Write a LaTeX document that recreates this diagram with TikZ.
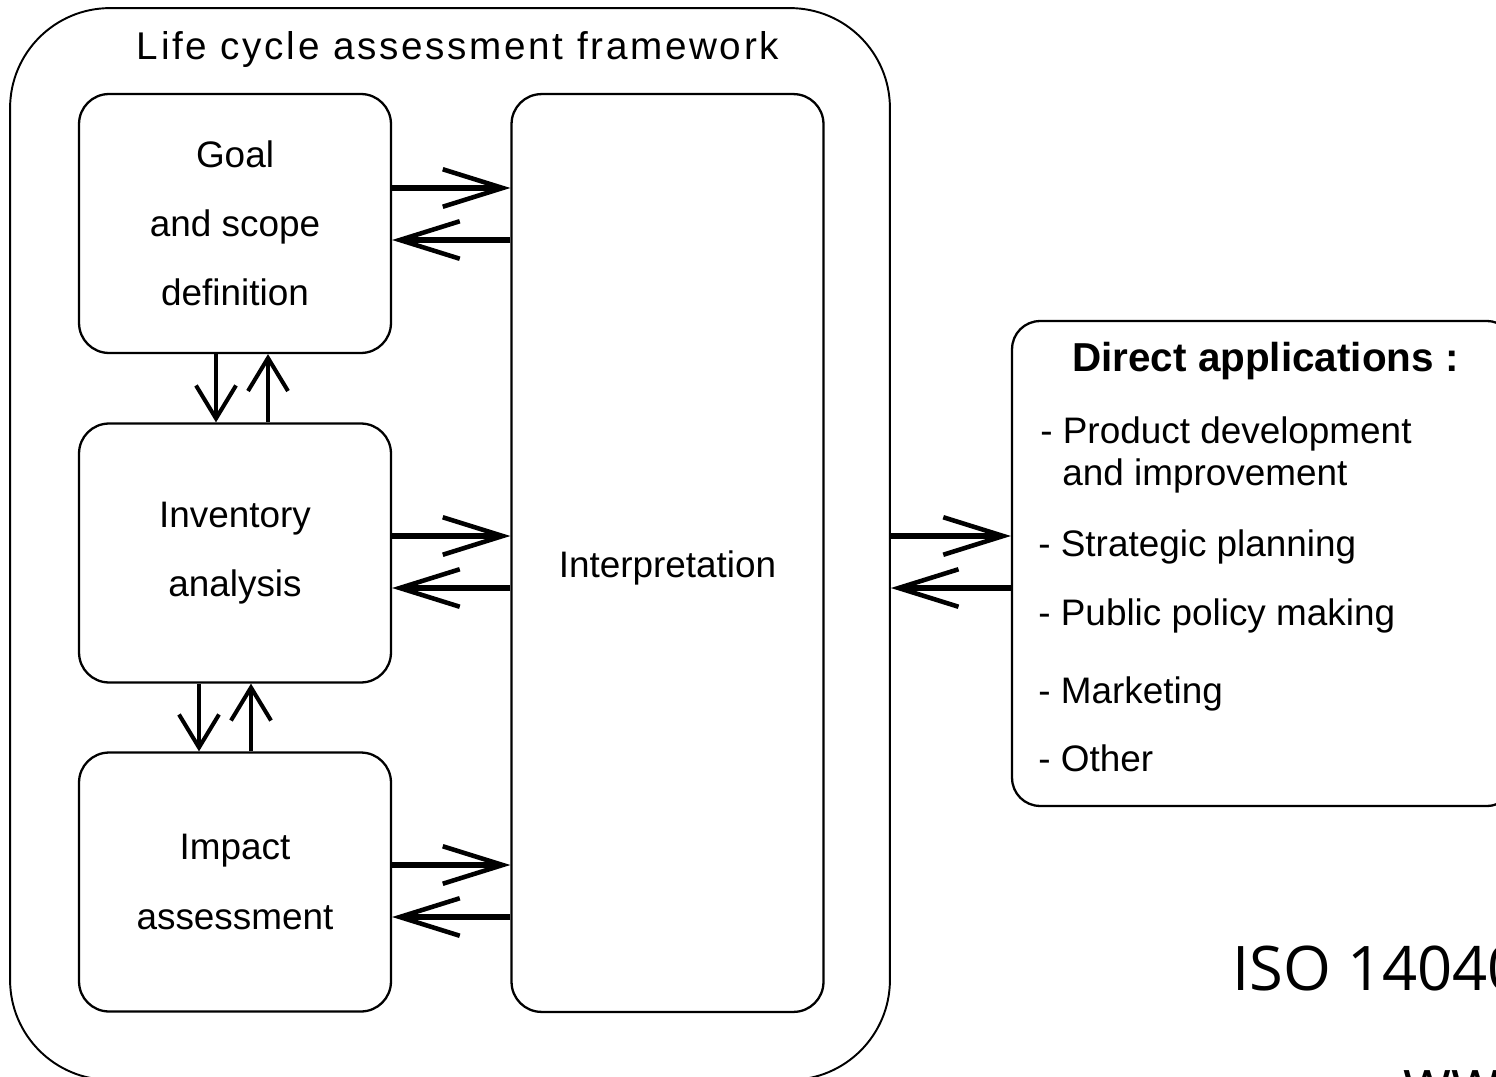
\documentclass[tikz,border=0pt]{standalone}
\usepackage{fontspec}
\setmainfont{Liberation Sans}
\newfontfamily\isofont{Open Sans}
\newfontfamily\titlefont[LetterSpace=7]{Liberation Sans}
\usetikzlibrary{arrows.meta}
\tikzset{stage/.style={draw,line width=1.3pt,rounded corners=0.6cm,minimum width=6.24cm,minimum height=5.18cm,align=center,font=\fontsize{21}{39.3}\selectfont},
         lcaframe/.style={draw,line width=1.1pt,rounded corners=2cm,minimum width=17.6cm,minimum height=21.44cm},
         fwd/.style={line width=3.4pt,-{Straight Barb[length=1.2cm,width=0.75cm,line width=2.6pt]}},
         vert/.style={line width=2.6pt,-{Straight Barb[length=0.66cm,width=0.8cm,line width=2.3pt]}},
         appitem/.style={anchor=base west,inner sep=0pt,font=\fontsize{21}{25}\selectfont},
        }
\begin{document}
\begin{tikzpicture}[x=0.02cm,y=-0.02cm]
        \useasboundingbox(0,0)rectangle(1496,1077);
        \node[lcaframe](lca)at(450,544){};
        \node[anchor=base,inner sep=0pt,font=\titlefont\fontsize{22}{26}\selectfont](title)at(458,60){Life cycle assessment framework};
        \node[stage](goal)at(235,223.5){Goal\\and scope\\definition};
        \node[stage](inv)at(235,553){Inventory\\analysis};
        \node[stage](imp)at(235,882){Impact\\assessment};
        \node[stage,minimum height=18.36cm,label={[font=\fontsize{21}{25}\selectfont,yshift=-0.3cm]center:Interpretation}](interp)at(667.5,553){};

        \node[draw,line width=1.3pt,rounded corners=0.56cm,minimum width=10.06cm,minimum height=9.7cm](apps)at(1263.5,563.5){};
        \node[appitem,font=\bfseries\fontsize{23}{27}\selectfont](appstitle)at(1072,372){Direct applications :};
        \node[appitem](a1)at(1040,443){- Product development};
        \node[appitem](a1b)at(1062,485){and improvement};
        \node[appitem](a2)at(1038,556){- Strategic planning};
        \node[appitem](a3)at(1038,625){- Public policy making};
        \node[appitem](a4)at(1038,703){- Marketing};
        \node[appitem](a5)at(1038,771){- Other};

        \node[anchor=base west,inner sep=0pt,font=\isofont\fontsize{35}{42}\selectfont](iso)at(1232,990){ISO 14040};
        \node[anchor=base west,inner sep=0pt,font=\isofont\fontsize{35}{42}\selectfont](web)at(1403,1103){www};

        \draw[fwd](goal.east|-0,188)--(interp.west|-0,188);
        \draw[fwd](interp.west|-0,240)--(goal.east|-0,240);
        \draw[fwd](inv.east|-0,536)--(interp.west|-0,536);
        \draw[fwd](interp.west|-0,588)--(inv.east|-0,588);
        \draw[fwd](imp.east|-0,865)--(interp.west|-0,865);
        \draw[fwd](interp.west|-0,917)--(imp.east|-0,917);

        \draw[vert](goal.south-|216,0)--(inv.north-|216,0);
        \draw[vert](inv.north-|268,0)--(goal.south-|268,0);
        \draw[vert](inv.south-|199,0)--(imp.north-|199,0);
        \draw[vert](imp.north-|251,0)--(inv.south-|251,0);

        \draw[fwd](lca.east|-0,536)--(apps.west|-0,536);
        \draw[fwd](apps.west|-0,588)--(lca.east|-0,588);
    \end{tikzpicture}
\end{document}
